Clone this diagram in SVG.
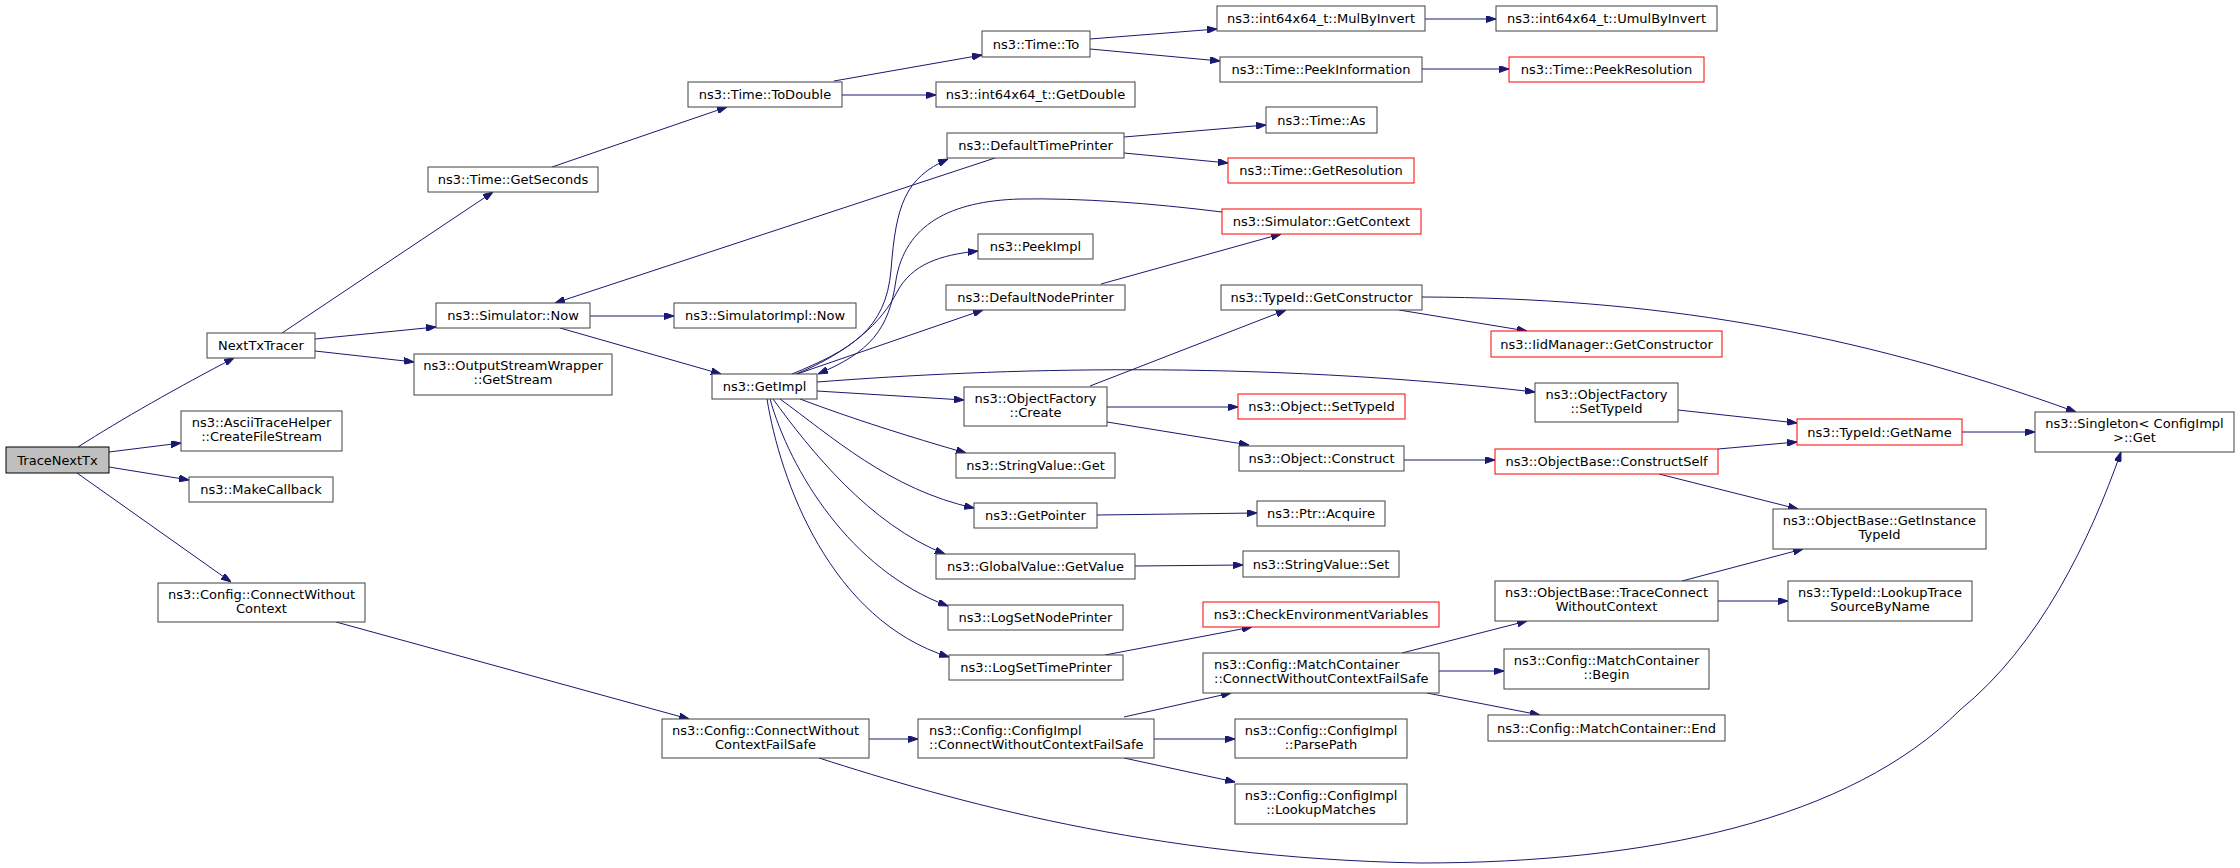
<svg xmlns="http://www.w3.org/2000/svg" width="2240" height="868" viewBox="0 0 2240 868">
<style>
  .n rect { fill: #ffffff; stroke: #404040; stroke-width: 1; }
  .r rect { fill: #ffffff; stroke: #ff0000; stroke-width: 1; }
  .root rect { fill: #bfbfbf; stroke: #000000; stroke-width: 1; }
  text { font-family: "DejaVu Sans", "Liberation Sans", sans-serif; font-size: 13px; fill: #000000; text-anchor: middle; }
  text.l { text-anchor: start; }
  .e path { fill: none; stroke: #191970; stroke-width: 1; marker-end: url(#ah); }
</style>
<defs>
  <marker id="ah" viewBox="0 0 10 7" refX="10" refY="3.5" markerWidth="10" markerHeight="7" markerUnits="userSpaceOnUse" orient="auto">
    <path d="M0,0 L10,3.5 L0,7 z" fill="#191970" stroke="#191970" stroke-width="1"/>
  </marker>
</defs>
<rect x="0" y="0" width="2240" height="868" fill="#ffffff"/>
<g id="edges" class="e">
  <path d="M78,447 C120,420 180,386 234,358"/>
  <path d="M109,452 L181,443"/>
  <path d="M109,467 L189,480"/>
  <path d="M77,473 L231,582"/>
  <path d="M282,333 L493,192"/>
  <path d="M315,339 L436,327"/>
  <path d="M315,351 L414,362"/>
  <path d="M552,167 L727,107"/>
  <path d="M834,81 L982,55"/>
  <path d="M842,95 L936,95"/>
  <path d="M1090,39 L1217,29"/>
  <path d="M1090,49 L1220,61"/>
  <path d="M1425,19 L1496,19"/>
  <path d="M1422,69 L1509,69"/>
  <path d="M995,158 L555,303"/>
  <path d="M1124,137 L1266,125"/>
  <path d="M1124,153 L1228,163"/>
  <path d="M590,316 L674,316"/>
  <path d="M560,328 L721,374"/>
  <path d="M792,374 C850,350 886,330 891,270 C896,205 905,178 948,159"/>
  <path d="M1222,212 C1150,203 1080,198 1020,199 C950,201 905,225 896,280 C889,330 870,352 818,374"/>
  <path d="M796,374 C850,352 882,322 897,292 C912,264 940,255 978,251"/>
  <path d="M797,374 L983,310"/>
  <path d="M817,382 C1000,368 1250,360 1535,392"/>
  <path d="M817,391 L964,400"/>
  <path d="M800,399 C850,418 910,437 966,453"/>
  <path d="M780,399 C830,435 890,490 974,508"/>
  <path d="M773,399 C810,450 870,525 945,554"/>
  <path d="M770,399 C790,470 850,570 948,606"/>
  <path d="M767,399 C780,480 830,620 949,657"/>
  <path d="M1101,284 L1281,234"/>
  <path d="M1090,386 L1286,310"/>
  <path d="M1107,407 L1238,407"/>
  <path d="M1107,422 L1249,445"/>
  <path d="M1399,310 L1527,331"/>
  <path d="M1422,297 C1650,298 1850,330 2076,412"/>
  <path d="M1678,410 L1797,423"/>
  <path d="M1962,432 L2035,432"/>
  <path d="M1404,460 L1495,460"/>
  <path d="M1718,449 L1797,442"/>
  <path d="M1659,474 L1798,509"/>
  <path d="M1097,515 L1257,513"/>
  <path d="M1135,566 L1243,565"/>
  <path d="M1105,655 L1252,627"/>
  <path d="M336,622 L689,719"/>
  <path d="M869,739 L918,739"/>
  <path d="M819,758 C950,800 1150,858 1420,863 C1650,863 1850,820 1960,710 C2040,645 2090,540 2121,452"/>
  <path d="M1124,717 L1231,693"/>
  <path d="M1154,739 L1235,739"/>
  <path d="M1124,758 L1235,782"/>
  <path d="M1402,653 L1527,621"/>
  <path d="M1439,671 L1504,671"/>
  <path d="M1427,693 L1540,715"/>
  <path d="M1682,581 L1803,549"/>
  <path d="M1718,601 L1788,601"/>
</g>
<g id="n0" class="root"><rect x="6" y="447" width="103" height="26"/><text x="57.5" y="464.5">TraceNextTx</text></g>
<g id="n1" class="n"><rect x="207" y="333" width="108" height="25"/><text x="261" y="350">NextTxTracer</text></g>
<g id="n2" class="n"><rect x="181" y="411" width="161" height="40"/><text x="261.5" y="426.5">ns3::AsciiTraceHelper</text><text x="261.5" y="440.5">::CreateFileStream</text></g>
<g id="n3" class="n"><rect x="189" y="477" width="144" height="25"/><text x="261" y="494">ns3::MakeCallback</text></g>
<g id="n4" class="n"><rect x="158" y="583" width="207" height="39"/><text x="261.5" y="598.5">ns3::Config::ConnectWithout</text><text x="261.5" y="612.5">Context</text></g>
<g id="n5" class="n"><rect x="428" y="167" width="170" height="25"/><text x="513" y="184">ns3::Time::GetSeconds</text></g>
<g id="n6" class="n"><rect x="436" y="303" width="154" height="25"/><text x="513" y="320">ns3::Simulator::Now</text></g>
<g id="n7" class="n"><rect x="414" y="354" width="198" height="41"/><text x="513" y="370">ns3::OutputStreamWrapper</text><text x="513" y="384">::GetStream</text></g>
<g id="n8" class="n"><rect x="688" y="82" width="154" height="25"/><text x="765" y="99">ns3::Time::ToDouble</text></g>
<g id="n9" class="n"><rect x="674" y="303" width="182" height="25"/><text x="765" y="320">ns3::SimulatorImpl::Now</text></g>
<g id="n10" class="n"><rect x="712" y="374" width="105" height="25"/><text x="764.5" y="391">ns3::GetImpl</text></g>
<g id="n11" class="n"><rect x="662" y="719" width="207" height="39"/><text x="765.5" y="734.5">ns3::Config::ConnectWithout</text><text x="765.5" y="748.5">ContextFailSafe</text></g>
<g id="n12" class="n"><rect x="982" y="31" width="108" height="26"/><text x="1036" y="48.5">ns3::Time::To</text></g>
<g id="n13" class="n"><rect x="936" y="82" width="199" height="25"/><text x="1035.5" y="99">ns3::int64x64_t::GetDouble</text></g>
<g id="n14" class="n"><rect x="947" y="133" width="177" height="25"/><text x="1035.5" y="150">ns3::DefaultTimePrinter</text></g>
<g id="n15" class="n"><rect x="978" y="234" width="115" height="25"/><text x="1035.5" y="251">ns3::PeekImpl</text></g>
<g id="n16" class="n"><rect x="946" y="285" width="179" height="25"/><text x="1035.5" y="302">ns3::DefaultNodePrinter</text></g>
<g id="n17" class="n"><rect x="964" y="387" width="143" height="39"/><text x="1035.5" y="402.5">ns3::ObjectFactory</text><text x="1035.5" y="416.5">::Create</text></g>
<g id="n18" class="n"><rect x="956" y="453" width="159" height="25"/><text x="1035.5" y="470">ns3::StringValue::Get</text></g>
<g id="n19" class="n"><rect x="974" y="503" width="123" height="25"/><text x="1035.5" y="520">ns3::GetPointer</text></g>
<g id="n20" class="n"><rect x="936" y="554" width="199" height="25"/><text x="1035.5" y="571">ns3::GlobalValue::GetValue</text></g>
<g id="n21" class="n"><rect x="948" y="605" width="175" height="25"/><text x="1035.5" y="622">ns3::LogSetNodePrinter</text></g>
<g id="n22" class="n"><rect x="949" y="655" width="174" height="25"/><text x="1036" y="672">ns3::LogSetTimePrinter</text></g>
<g id="n23" class="n"><rect x="918" y="719" width="236" height="39"/><text class="l" x="929" y="734.5">ns3::Config::ConfigImpl</text><text class="l" x="929" y="748.5">::ConnectWithoutContextFailSafe</text></g>
<g id="n24" class="n"><rect x="1217" y="6" width="208" height="25"/><text x="1321" y="23">ns3::int64x64_t::MulByInvert</text></g>
<g id="n25" class="n"><rect x="1220" y="57" width="202" height="25"/><text x="1321" y="74">ns3::Time::PeekInformation</text></g>
<g id="n26" class="n"><rect x="1266" y="107" width="111" height="26"/><text x="1321.5" y="124.5">ns3::Time::As</text></g>
<g id="n27" class="r"><rect x="1228" y="158" width="186" height="25"/><text x="1321" y="175">ns3::Time::GetResolution</text></g>
<g id="n28" class="r"><rect x="1222" y="209" width="199" height="25"/><text x="1321.5" y="226">ns3::Simulator::GetContext</text></g>
<g id="n29" class="n"><rect x="1221" y="285" width="201" height="25"/><text x="1321.5" y="302">ns3::TypeId::GetConstructor</text></g>
<g id="n30" class="r"><rect x="1238" y="394" width="167" height="25"/><text x="1321.5" y="411">ns3::Object::SetTypeId</text></g>
<g id="n31" class="n"><rect x="1239" y="446" width="165" height="25"/><text x="1321.5" y="463">ns3::Object::Construct</text></g>
<g id="n32" class="n"><rect x="1257" y="501" width="128" height="25"/><text x="1321" y="518">ns3::Ptr::Acquire</text></g>
<g id="n33" class="n"><rect x="1243" y="551" width="156" height="26"/><text x="1321" y="568.5">ns3::StringValue::Set</text></g>
<g id="n34" class="r"><rect x="1203" y="602" width="236" height="25"/><text x="1321" y="619">ns3::CheckEnvironmentVariables</text></g>
<g id="n35" class="n"><rect x="1203" y="653" width="236" height="40"/><text class="l" x="1214" y="668.5">ns3::Config::MatchContainer</text><text class="l" x="1214" y="683">::ConnectWithoutContextFailSafe</text></g>
<g id="n36" class="n"><rect x="1235" y="719" width="172" height="39"/><text x="1321" y="734.5">ns3::Config::ConfigImpl</text><text x="1321" y="748.5">::ParsePath</text></g>
<g id="n37" class="n"><rect x="1235" y="784" width="172" height="40"/><text x="1321" y="799.5">ns3::Config::ConfigImpl</text><text x="1321" y="814">::LookupMatches</text></g>
<g id="n38" class="n"><rect x="1496" y="6" width="221" height="25"/><text x="1606.5" y="23">ns3::int64x64_t::UmulByInvert</text></g>
<g id="n39" class="r"><rect x="1509" y="57" width="195" height="25"/><text x="1606.5" y="74">ns3::Time::PeekResolution</text></g>
<g id="n40" class="r"><rect x="1491" y="331" width="231" height="26"/><text x="1606.5" y="348.5">ns3::IidManager::GetConstructor</text></g>
<g id="n41" class="n"><rect x="1535" y="383" width="143" height="39"/><text x="1606.5" y="398.5">ns3::ObjectFactory</text><text x="1606.5" y="412.5">::SetTypeId</text></g>
<g id="n42" class="r"><rect x="1495" y="449" width="223" height="25"/><text x="1606.5" y="466">ns3::ObjectBase::ConstructSelf</text></g>
<g id="n43" class="n"><rect x="1495" y="581" width="223" height="40"/><text x="1606.5" y="596.5">ns3::ObjectBase::TraceConnect</text><text x="1606.5" y="611">WithoutContext</text></g>
<g id="n44" class="n"><rect x="1504" y="649" width="205" height="40"/><text x="1606.5" y="664.5">ns3::Config::MatchContainer</text><text x="1606.5" y="679">::Begin</text></g>
<g id="n45" class="n"><rect x="1488" y="715" width="237" height="26"/><text x="1606.5" y="732.5">ns3::Config::MatchContainer::End</text></g>
<g id="n46" class="r"><rect x="1797" y="419" width="165" height="26"/><text x="1879.5" y="436.5">ns3::TypeId::GetName</text></g>
<g id="n47" class="n"><rect x="2035" y="412" width="199" height="40"/><text x="2134.5" y="427.5">ns3::Singleton&lt; ConfigImpl</text><text x="2134.5" y="442">&gt;::Get</text></g>
<g id="n48" class="n"><rect x="1773" y="509" width="213" height="40"/><text x="1879.5" y="524.5">ns3::ObjectBase::GetInstance</text><text x="1879.5" y="539">TypeId</text></g>
<g id="n49" class="n"><rect x="1788" y="581" width="184" height="40"/><text x="1880" y="596.5">ns3::TypeId::LookupTrace</text><text x="1880" y="611">SourceByName</text></g>
</svg>
